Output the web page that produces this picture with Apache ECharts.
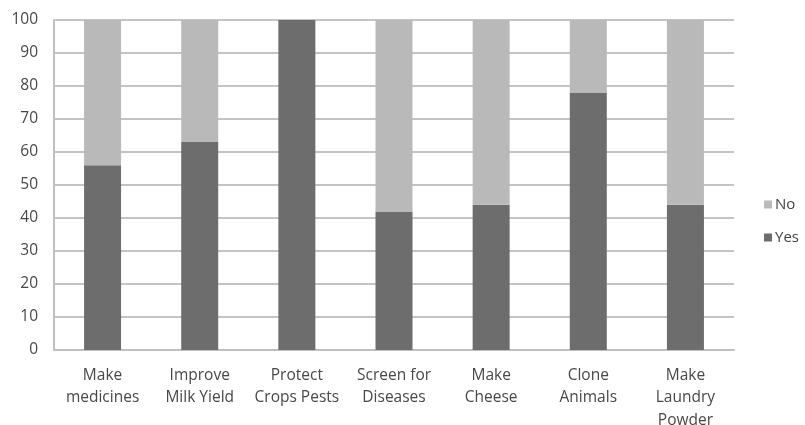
<!DOCTYPE html>
<html>
<head>
<meta charset="utf-8">
<script src="https://cdn.jsdelivr.net/npm/echarts@6/dist/echarts.min.js"></script>
<style>
  html, body { margin: 0; padding: 0; background: #fff; }
  #chart { width: 805px; height: 425px; }
</style>
</head>
<body>
<div id="chart"></div>
<script>
// Survey categories and percentage answers per category
const categories = [
  'Make\nmedicines',
  'Improve\nMilk Yield',
  'Protect\nCrops Pests',
  'Screen for\nDiseases',
  'Make\nCheese',
  'Clone\nAnimals',
  'Make\nLaundry\nPowder'
];
const yesValues = [56, 63, 100, 42, 44, 78, 44];
const noValues = [44, 37, 0, 58, 56, 22, 56];
const yTicks = [0, 10, 20, 30, 40, 50, 60, 70, 80, 90, 100];

const FONT = '"Open Sans", "Noto Sans", sans-serif';
const chart = echarts.init(document.getElementById('chart'));

chart.setOption({
  animation: false,
  backgroundColor: '#ffffff',
  textStyle: { fontFamily: FONT },
  grid: {
    left: 54, right: 71, top: 20, bottom: 75,
    containLabel: false,
    outerBoundsMode: 'none'
  },
  legend: {
    orient: 'vertical',
    right: 1,
    top: 192,
    data: ['No', 'Yes'],
    itemWidth: 8,
    itemHeight: 8,
    itemGap: 18,
    icon: 'rect',
    textStyle: { color: '#444', fontSize: 15, fontFamily: FONT, padding: [0, 0, 0, -2] }
  },
  xAxis: {
    type: 'category',
    data: categories,
    axisLine: { show: true, lineStyle: { color: '#c0c0c0', width: 2 } },
    axisTick: { show: false },
    axisLabel: {
      color: '#484848',
      fontSize: 15.5,
      lineHeight: 22.5,
      margin: 14,
      interval: 0,
      fontFamily: FONT
    }
  },
  yAxis: {
    type: 'value',
    min: yTicks[0],
    max: yTicks[yTicks.length - 1],
    interval: 10,
    axisLine: { show: true, lineStyle: { color: '#c0c0c0', width: 2 } },
    axisTick: { show: false },
    axisLabel: { color: '#484848', fontSize: 15.5, margin: 16, fontFamily: FONT },
    splitLine: { show: true, lineStyle: { color: '#c4c4c4', width: 2 } }
  },
  series: [
    {
      name: 'Yes',
      type: 'bar',
      stack: 'total',
      data: yesValues,
      barWidth: 37,
      itemStyle: { color: '#6d6d6d' }
    },
    {
      name: 'No',
      type: 'bar',
      stack: 'total',
      data: noValues,
      barWidth: 37,
      itemStyle: { color: '#b9b9b9' }
    }
  ]
});
</script>
</body>
</html>
